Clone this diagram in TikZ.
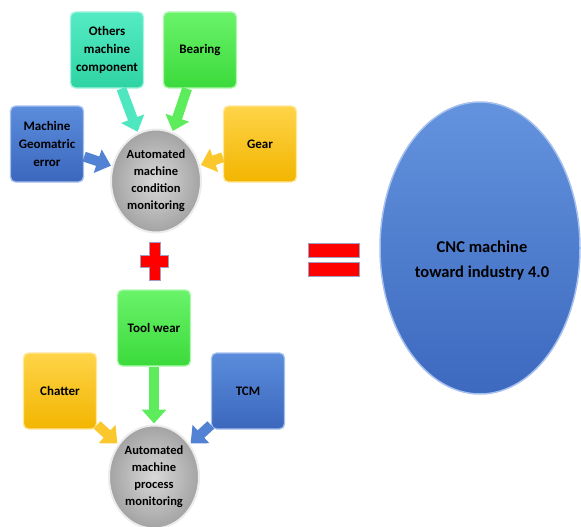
\documentclass[tikz,border=0pt]{standalone}
\usepackage{fontspec}
\setmainfont{Carlito}
\usetikzlibrary{shapes.geometric,arrows.meta}

\definecolor{bluetop}{HTML}{5B8DDC}
\definecolor{bluebot}{HTML}{3B67BD}
\definecolor{tealtop}{HTML}{55EBC4}
\definecolor{tealbot}{HTML}{2FD3A2}
\definecolor{greentop}{HTML}{6AF36A}
\definecolor{greenbot}{HTML}{3BDA3B}
\definecolor{goldtop}{HTML}{FFD449}
\definecolor{goldbot}{HTML}{F2B500}
\definecolor{signred}{HTML}{FF0000}

\begin{document}
\begin{tikzpicture}[
  x=1pt, y=-1pt,
  txt/.style={font=\bfseries\fontsize{13}{18}\selectfont, align=center, text=black},
  tile/.style={txt, rectangle, rounded corners=5pt, minimum width=73pt,
    minimum height=76pt, inner sep=2pt, line width=1.3pt},
  bluetile/.style={tile, top color=bluetop, bottom color=bluebot, draw=bluetop!55!white},
  tealtile/.style={tile, top color=tealtop, bottom color=tealbot, draw=tealtop!55!white},
  greentile/.style={tile, top color=greentop, bottom color=greenbot, draw=greentop!55!white},
  goldtile/.style={tile, top color=goldtop, bottom color=goldbot, draw=goldtop!55!white},
  monitor/.style={txt, font=\bfseries\fontsize{12.5}{17}\selectfont, ellipse,
    minimum width=90pt, minimum height=103pt, inner sep=0pt,
    inner color=gray!30, outer color=gray!72, draw=white!85!gray, line width=2pt},
  goal/.style={ellipse, minimum width=200pt, minimum height=292pt, inner sep=0pt,
    top color=bluetop!95!white, bottom color=bluebot!95!bluetop, draw=bluetop!55!white, line width=1.5pt},
  goaltext/.style={txt, font=\bfseries\fontsize{16.5}{25}\selectfont},
  feed/.style={line width=10pt, -{Triangle[length=14pt,width=24pt]}, shorten >=1pt},
  sign/.style={fill=signred, draw=blue!25!gray!60, line width=0.6pt},
]

\useasboundingbox (0,0) rectangle (581,527);

\node [tealtile] (others) at (107,50) {Others\\machine\\component};
\node [greentile] (bearing) at (200,50) {Bearing};
\node [bluetile] (geom) at (47,144) {Machine\\Geomatric\\error};
\node [goldtile] (gear) at (260,144) {Gear};
\node [monitor] (cond) at (156,181) {Automated\\machine\\condition\\monitoring};

\node [greentile] (wear) at (154,328) {Tool wear};
\node [goldtile] (chatter) at (60,391) {Chatter};
\node [bluetile] (tcm) at (248,391) {TCM};
\node [monitor] (proc) at (154,477) {Automated\\machine\\process\\monitoring};

\node [goal] (cnc) at (480,248) {};
\node [goaltext] (cnclabel) at (482,261) {CNC machine\\toward industry 4.0};

\draw [feed, tealtop!85!tealbot] (others) -- (cond);
\draw [feed, greentop!70!greenbot] (bearing) -- (cond);
\draw [feed, bluetop!70!bluebot] (geom) -- (cond);
\draw [feed, goldtop!60!goldbot] (gear) -- (cond);

\draw [feed, greentop!70!greenbot] (wear) -- (proc);
\draw [feed, goldtop!60!goldbot] (chatter) -- (proc);
\draw [feed, bluetop!70!bluebot] (tcm) -- (proc);

\path [sign] (149,242) -- (160,242) -- (160,255) -- (168,255) -- (168,267) -- (160,267)
  -- (160,280) -- (149,280) -- (149,267) -- (140,267) -- (140,255) -- (149,255) -- cycle;

\path [sign] (308,243) rectangle (359,257);
\path [sign] (308,262) rectangle (359,276);

\end{tikzpicture}
\end{document}
